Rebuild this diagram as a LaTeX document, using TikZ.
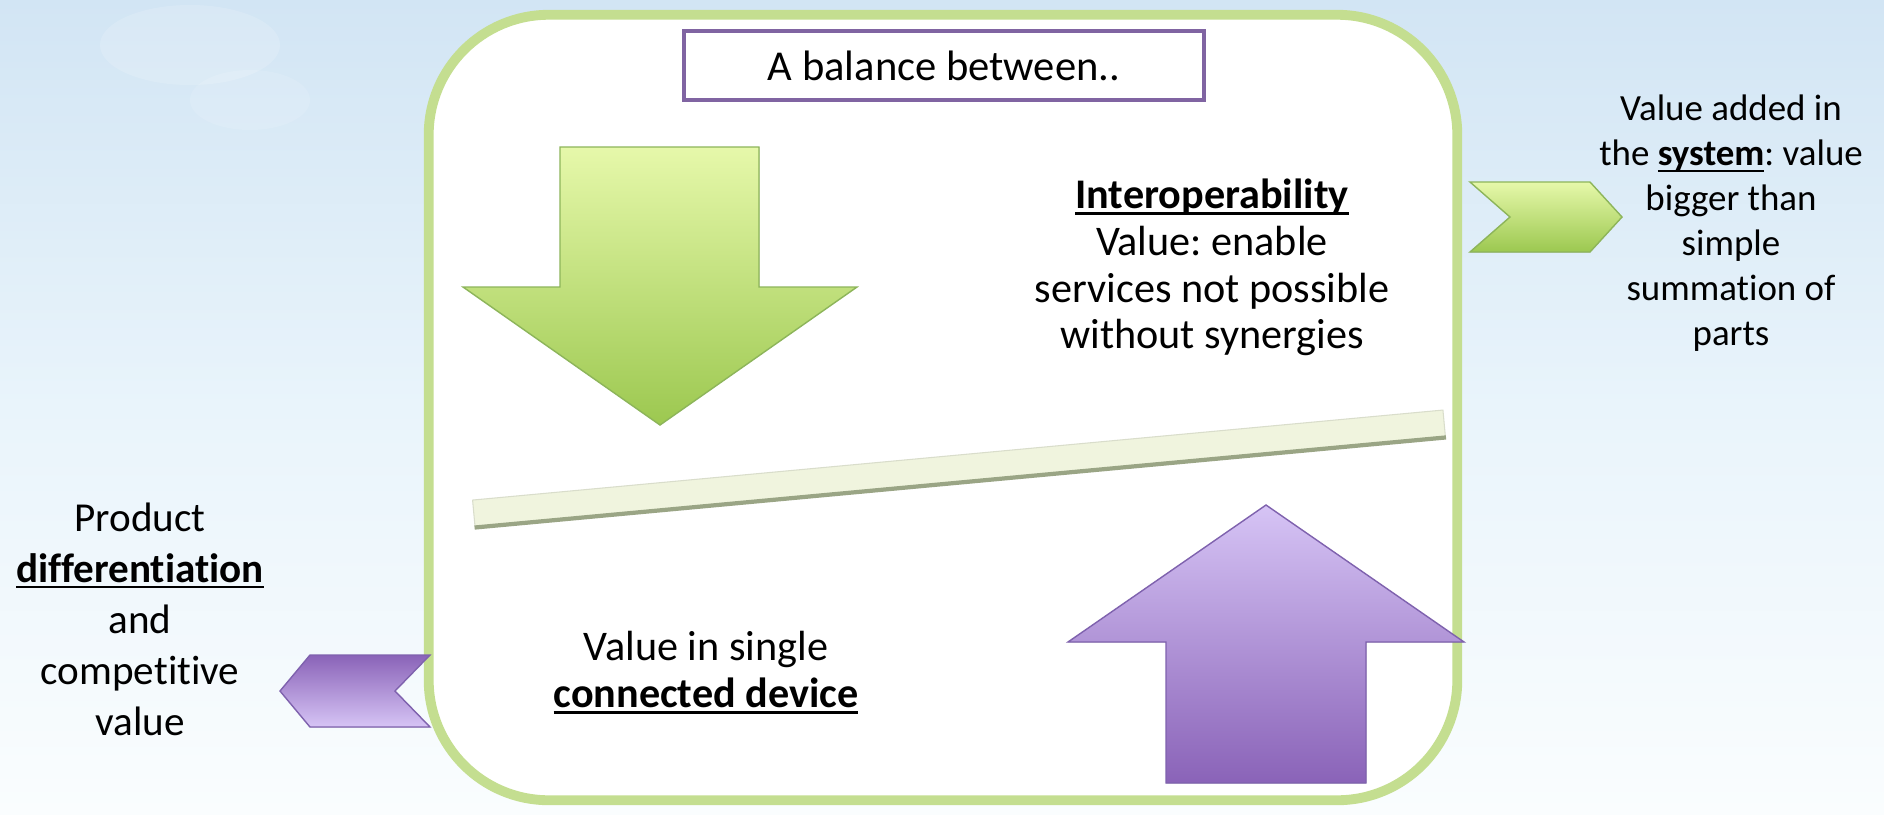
\documentclass[tikz,border=0pt]{standalone}
\usepackage{fontspec}
\setmainfont{Carlito}[Ligatures={NoCommon}]
\frenchspacing

\definecolor{skytop}{HTML}{D2E5F4}
\definecolor{skymid}{HTML}{E9F4FB}
\definecolor{skybot}{HTML}{FAFDFE}
\definecolor{framegreen}{HTML}{C4DE90}
\definecolor{titlepurple}{HTML}{8064A2}
\definecolor{leaflight}{HTML}{E6F8AA}
\definecolor{leafdark}{HTML}{9CC850}
\definecolor{leafedge}{HTML}{8DB55A}
\definecolor{lavlight}{HTML}{D6C4F5}
\definecolor{lavdark}{HTML}{8A63B8}
\definecolor{lavedge}{HTML}{7F62AE}
\definecolor{beamfill}{HTML}{F0F4DE}
\definecolor{beamedge}{HTML}{9AA585}

\newcommand{\ulword}[1]{\setbox0\hbox{#1}\rlap{\rule[-1.8pt]{\wd0}{0.7pt}}\box0}

\begin{document}
\begin{tikzpicture}
    [x=0.01cm, y=-0.01cm,
     panel/.style={draw=framegreen, line width=2.8pt, fill=white, rounded corners=1.2cm, inner sep=0pt},
     titlebox/.style={draw=titlepurple, line width=1.1pt, fill=white, inner sep=0pt, font=\fontsize{12.1}{14}\selectfont},
     bigtext/.style={align=center, inner sep=0pt, font=\fontsize{12}{13.3}\selectfont},
     lefttext/.style={align=center, inner sep=0pt, font=\fontsize{11.7}{14.5}\selectfont},
     smalltext/.style={align=center, inner sep=0pt, font=\fontsize{10.5}{12.8}\selectfont},
     greenfill/.style={draw=leafedge, line width=0.4pt, top color=leaflight, bottom color=leafdark},
     purplefill/.style={draw=lavedge, line width=0.4pt, top color=lavlight, bottom color=lavdark},
     purplechev/.style={draw=lavedge, line width=0.4pt, top color=lavdark, bottom color=lavlight},
     plank/.style={fill=beamfill, draw=beamfill!80!gray, line width=0.3pt, minimum width=9.74cm, minimum height=0.27cm, inner sep=0pt}]
    \fill[top color=skytop, bottom color=skybot, middle color=skymid] (0,0) rectangle (1884,814);
    \useasboundingbox (0,0) rectangle (1884,814);
    \fill[white, opacity=.15] (190,45) ellipse [x radius=90, y radius=40];
    \fill[white, opacity=.12] (250,100) ellipse [x radius=60, y radius=30];

    \node (frame) [panel, minimum width=10.28cm, minimum height=7.85cm] at (943,407.5) {};
    \node (title) [titlebox, minimum width=5.2cm, minimum height=0.69cm] at (944,65.5) {A balance between..};

    \filldraw[greenfill] (560,147) -- (759,147) -- (759,287) -- (857,287) -- (660,425) -- (463,287) -- (560,287) -- cycle;
    \filldraw[purplefill] (1166,783) -- (1366,783) -- (1366,642) -- (1464,642) -- (1266,505) -- (1068,642) -- (1166,642) -- cycle;
    \filldraw[greenfill] (1470,182) -- (1590,182) -- (1622,217) -- (1590,252) -- (1470,252) -- (1510,217) -- cycle;
    \filldraw[purplechev] (430,655) -- (310,655) -- (280,691) -- (310,727) -- (430,727) -- (395,691) -- cycle;

    \node (beam) [plank, rotate=5.3] at (959,468.5) {};
    \draw[beamedge, line width=1.2pt] (beam.south west) -- (beam.south east);

    \node (interop) [bigtext] at (1212,267.5) {\ulword{\textbf{Interoperability}}\\Value: enable\\services not possible\\without synergies};
    \node (system) [smalltext] at (1731,223.5) {Value added in\\the \ulword{\textbf{system}}: value\\bigger than\\simple\\summation of\\parts};
    \node (product) [lefttext] at (140,619) {Product\\\ulword{\textbf{differentiation}}\\and\\competitive\\value};
    \node (device) [bigtext] at (706,672.5) {Value in single\\\ulword{\textbf{connected device}}};
  \end{tikzpicture}
\end{document}
